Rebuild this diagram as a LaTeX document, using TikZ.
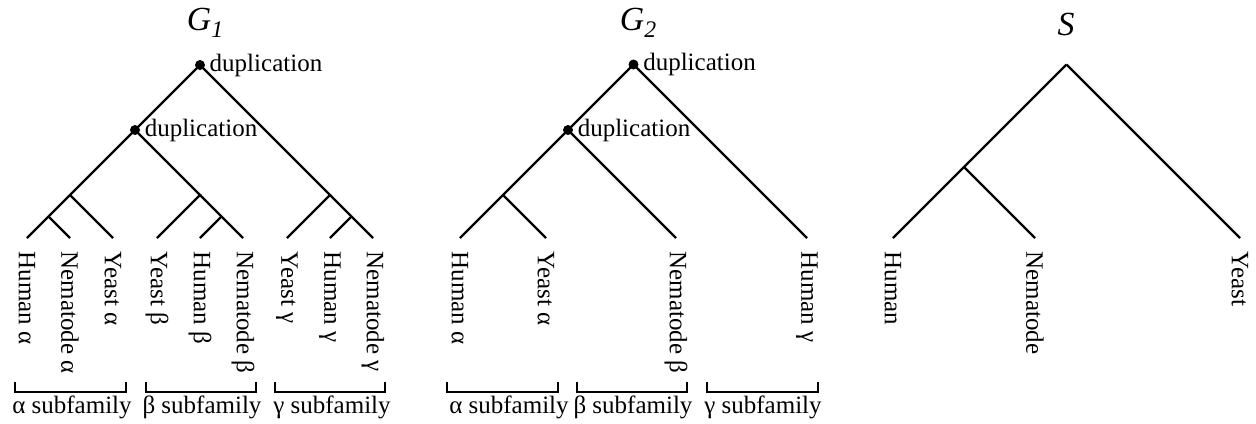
\documentclass[tikz,border=0pt]{standalone}
\usepackage{fontspec}
\setmainfont{Liberation Serif}

\begin{document}
\begin{tikzpicture}[x=0.4pt, y=-0.4pt, line width=0.9pt,
  leaf/.style={rotate=-90, anchor=west, inner xsep=5pt, inner ysep=0pt},
  dup/.style={circle, fill, inner sep=0pt, minimum size=4pt,
    label={[inner sep=1pt]right:duplication}},
  title/.style={font=\fontsize{13.5}{15}\selectfont\itshape},
  family/.style={inner sep=0pt}]

  \useasboundingbox (0,0) rectangle (1256,423);

  % Titles
  \node[title] (t1) at (205,23) {G\raisebox{-0.45ex}{\fontsize{9.5}{10}\selectfont 1}};
  \node[title] (t2) at (638,23) {G\raisebox{-0.45ex}{\fontsize{9.5}{10}\selectfont 2}};
  \node[title] (t3) at (1066,24) {S};

  % Gene tree G1
  \node[dup] (r1) at (200,65) {};
  \node[dup] (d1) at (135,130) {};
  \coordinate (a1) at (70,195);
  \coordinate (a2) at (48.5,216.5);
  \coordinate (b1) at (200,195);
  \coordinate (b2) at (221.5,216.5);
  \coordinate (c1) at (330,195);
  \coordinate (c2) at (351.5,216.5);

  \node[leaf] (hA) at (27,238) {Human α};
  \node[leaf] (nA) at (70,238) {Nematode α};
  \node[leaf] (yA) at (113,238) {Yeast α};
  \node[leaf] (yB) at (157,238) {Yeast β};
  \node[leaf] (hB) at (200,238) {Human β};
  \node[leaf] (nB) at (243,238) {Nematode β};
  \node[leaf] (yG) at (287,238) {Yeast γ};
  \node[leaf] (hG) at (330,238) {Human γ};
  \node[leaf] (nG) at (373,238) {Nematode γ};

  \draw (r1.center) -- (d1.center) -- (a1) -- (a2) -- (hA.west);
  \draw (a2) -- (nA.west);
  \draw (a1) -- (yA.west);
  \draw (d1.center) -- (b1) -- (yB.west);
  \draw (b1) -- (b2) -- (nB.west);
  \draw (b2) -- (hB.west);
  \draw (r1.center) -- (c1) -- (yG.west);
  \draw (c1) -- (c2) -- (nG.west);
  \draw (c2) -- (hG.west);

  % Gene tree G2
  \node[dup] (r2) at (633.5,64.5) {};
  \node[dup] (d2) at (568,130) {};
  \coordinate (a3) at (503,195);

  \node[leaf] (hA2) at (460,238) {Human α};
  \node[leaf] (yA2) at (546,238) {Yeast α};
  \node[leaf] (nB2) at (676,238) {Nematode β};
  \node[leaf] (hG2) at (807,238) {Human γ};

  \draw (r2.center) -- (d2.center) -- (a3) -- (hA2.west);
  \draw (a3) -- (yA2.west);
  \draw (d2.center) -- (nB2.west);
  \draw (r2.center) -- (hG2.west);

  % Species tree S
  \coordinate (r3) at (1066.5,64.5);
  \coordinate (s1) at (964,167);

  \node[leaf] (hS) at (893,238) {Human};
  \node[leaf] (nS) at (1035,238) {Nematode};
  \node[leaf] (yS) at (1240,238) {Yeast};

  \draw (r3) -- (s1) -- (hS.west);
  \draw (s1) -- (nS.west);
  \draw (r3) -- (yS.west);

  % Subfamily brackets
  \draw (15,382) -- (15,392) -- (126,392) -- (126,382);
  \draw (146,382) -- (146,392) -- (256,392) -- (256,382);
  \draw (275,382) -- (275,392) -- (385,392) -- (385,382);
  \draw (447,382) -- (447,392) -- (558,392) -- (558,382);
  \draw (577,382) -- (577,392) -- (687,392) -- (687,382);
  \draw (707,382) -- (707,392) -- (818,392) -- (818,382);

  \node[family] (fA1) at (72,407) {α subfamily};
  \node[family] (fB1) at (202,407) {β subfamily};
  \node[family] (fG1) at (332,407) {γ subfamily};
  \node[family] (fA2) at (509,407) {α subfamily};
  \node[family] (fB2) at (633,407) {β subfamily};
  \node[family] (fG2) at (763,407) {γ subfamily};

\end{tikzpicture}
\end{document}
